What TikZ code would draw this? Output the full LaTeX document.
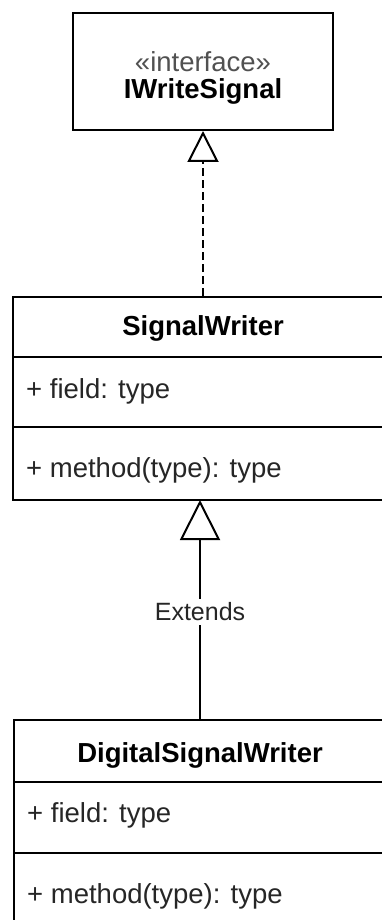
\documentclass[tikz,border=0pt]{standalone}
\usepackage{fontspec}
\setmainfont{Liberation Sans}
\usetikzlibrary{arrows.meta}

\definecolor{txt}{HTML}{262626}

\tikzset{
  umlbox/.style={draw=black, line width=2pt, fill=white, rectangle, inner sep=0pt},
  sepline/.style={draw=black, line width=2pt},
  titletext/.style={font=\fontsize{27.5}{33}\selectfont\bfseries, text=black, inner sep=0pt},
  stereotext/.style={font=\fontsize{27.5}{33}\selectfont, text=txt!80, inner sep=0pt},
  membertext/.style={font=\fontsize{27.5}{33}\selectfont, text=txt, inner sep=0pt, anchor=west},
  realize/.style={line width=2pt, dash pattern=on 8pt off 4pt,
    -{Triangle[open, length=31pt, width=31pt, line width=2pt]}},
  generalize/.style={line width=2pt,
    -{Triangle[open, length=40pt, width=40pt, line width=2pt]}},
  edgelabel/.style={font=\fontsize{25}{30}\selectfont, text=txt, fill=white, inner sep=4pt}
}

\begin{document}
\begin{tikzpicture}[x=1pt, y=-1pt]
  \useasboundingbox (0,0) rectangle (382,920);
  \clip (0,0) rectangle (382,920);
  \fill[white] (0,0) rectangle (382,920);

  % interface
  \node[umlbox, minimum width=260pt, minimum height=117pt] (iface) at (203,71.5) {};
  \node[stereotext] (iface-stereo) at (203,62) {«interface»};
  \node[titletext] (iface-name) at (203,91) {IWriteSignal};

  % SignalWriter class
  \node[umlbox, minimum width=380pt, minimum height=203pt] (sw) at (203,398.5) {};
  \draw[sepline] ([yshift=-61pt]sw.north west) -- ([yshift=-61pt]sw.north east);
  \draw[sepline] ([yshift=-131pt]sw.north west) -- ([yshift=-131pt]sw.north east);
  \node[titletext] (sw-title) at (203,328) {SignalWriter};
  \node[membertext] (sw-field) at (26,391) {+ field: type};
  \node[membertext] (sw-method) at (26,470) {+ method(type): type};

  % DigitalSignalWriter class
  \node[umlbox, minimum width=372pt, minimum height=240pt] (dsw) at (200,840) {};
  \draw[sepline] ([yshift=-63pt]dsw.north west) -- ([yshift=-63pt]dsw.north east);
  \draw[sepline] ([yshift=-134pt]dsw.north west) -- ([yshift=-134pt]dsw.north east);
  \node[titletext] (dsw-title) at (200,755) {DigitalSignalWriter};
  \node[membertext] (dsw-field) at (27,815) {+ field: type};
  \node[membertext] (dsw-method) at (27,896) {+ method(type): type};

  % relations
  \draw[realize] (sw.north) -- (iface.south);
  \coordinate (sw-bottom) at (200,500);
  \draw[generalize] (dsw.north) -- (sw-bottom)
    node[edgelabel, pos=0.49] (ext) {Extends};
\end{tikzpicture}
\end{document}
